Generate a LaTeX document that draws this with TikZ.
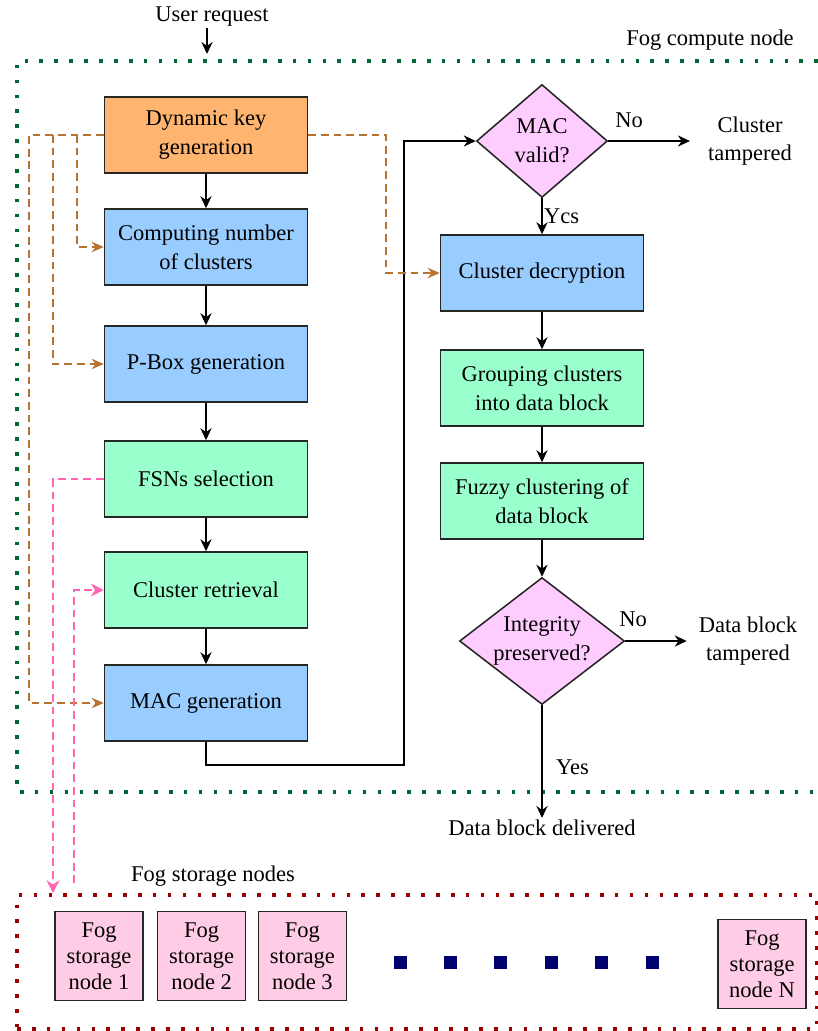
\documentclass[tikz,border=0pt]{standalone}
\usepackage{fontspec}
\setmainfont{Liberation Serif}
\usetikzlibrary{arrows.meta,positioning,shapes.geometric}
\definecolor{boxorange}{RGB}{255,181,112}
\definecolor{boxblue}{RGB}{153,204,255}
\definecolor{boxgreen}{RGB}{153,255,204}
\definecolor{boxviolet}{RGB}{255,204,255}
\definecolor{boxpink}{RGB}{255,204,230}
\definecolor{keybrown}{RGB}{184,115,51}
\definecolor{fsnpink}{RGB}{255,102,178}
\definecolor{fogblue}{RGB}{0,0,110}
\definecolor{cmpgreen}{RGB}{0,102,51}
\definecolor{stgred}{RGB}{153,0,0}

\begin{document}
\begin{tikzpicture}[
  font=\fontsize{16}{20.5}\selectfont,
  blk/.style={draw=black!85, line width=1.1pt, rectangle, minimum width=5.075cm, minimum height=1.9cm, align=center, inner sep=2pt},
  dec/.style={draw=black!85, line width=1.1pt, diamond, fill=boxviolet, align=center, inner sep=0pt, aspect=1.25},
  fsnbox/.style={draw=black!85, line width=1.1pt, rectangle, fill=boxpink, minimum width=2.2cm, minimum height=2.225cm, align=center, inner sep=1pt, font=\fontsize{16}{18.5}\selectfont},
  lbl/.style={align=center, inner sep=1pt},
  arr/.style={-{Stealth[length=3mm,width=2.8mm]}, line width=1pt},
  keyarr/.style={-{Stealth[length=3mm,width=2.6mm]}, line width=1.8pt, keybrown, dash pattern=on 5.5pt off 3.5pt},
  fsnarr/.style={-{Stealth[length=3.2mm,width=3.2mm]}, line width=1.8pt, fsnpink, dash pattern=on 5.5pt off 3.5pt},
  frame/.style={line width=2.6pt, dash pattern=on 2.6pt off 8pt}
]
\useasboundingbox (0,0) rectangle (20.45,-25.775);

% Fog compute node
\draw[frame, cmpgreen] (20.45,-1.525) -- (0.425,-1.525) -- (0.425,-19.8) -- (20.45,-19.8);
\node[lbl] (ureq) at (5.3,-0.425) {User request};
\node[lbl] (cmp) at (17.75,-1.0) {Fog compute node};
\coordinate (uin) at (5.175,-1.35);

% Left column
\node[blk, fill=boxorange] (dkg) at (5.15,-3.375) {Dynamic key\\generation};
\node[blk, fill=boxblue] (cnc) at (5.15,-6.175) {Computing number\\of clusters};
\node[blk, fill=boxblue] (pbox) at (5.15,-9.1) {P-Box generation};
\node[blk, fill=boxgreen] (fsn) at (5.15,-11.975) {FSNs selection};
\node[blk, fill=boxgreen] (cret) at (5.15,-14.75) {Cluster retrieval};
\node[blk, fill=boxblue] (macg) at (5.15,-17.575) {MAC generation};

% Right column
\node[dec, minimum width=3.275cm, minimum height=2.825cm] (macv) at (13.55,-3.525) {MAC\\valid?};
\node[blk, fill=boxblue] (cdec) at (13.55,-6.825) {Cluster decryption};
\node[blk, fill=boxgreen] (grp) at (13.55,-9.7) {Grouping clusters\\into data block};
\node[blk, fill=boxgreen] (fuz) at (13.55,-12.525) {Fuzzy clustering of\\data block};
\node[dec, minimum width=4.125cm, minimum height=3.175cm] (integ) at (13.55,-16.025) {Integrity\\preserved?};

\node[lbl, inner xsep=0.45cm] (ctam) at (18.75,-3.525) {Cluster\\tampered};
\node[lbl, inner xsep=0.3cm] (dtam) at (18.7,-16.025) {Data block\\tampered};
\node[lbl, anchor=north] (dlv) at (13.55,-20.45) {Data block delivered};

% Fog storage nodes
\node[frame, draw=stgred, minimum width=20cm, minimum height=3.35cm, inner sep=0pt] (stg) at (10.425,-24.05) {};
\node[lbl] (stgl) at (5.325,-21.9) {Fog storage nodes};
\node[fsnbox] (fs1) at (2.475,-23.9) {Fog\\storage\\node 1};
\node[fsnbox] (fs2) at (5.04,-23.9) {Fog\\storage\\node 2};
\node[fsnbox] (fs3) at (7.56,-23.9) {Fog\\storage\\node 3};
\node[fsnbox] (fsN) at (19.05,-24.1) {Fog\\storage\\node N};
\foreach \i in {0,...,5}
  \node[fill=fogblue, minimum size=0.325cm, inner sep=0pt] (sq\i) at (10.0+1.26*\i,-24.05) {};

% main flow
\draw[arr] (uin |- ureq.south) -- (uin);
\draw[arr] (dkg) -- (cnc);
\draw[arr] (cnc) -- (pbox);
\draw[arr] (pbox) -- (fsn);
\draw[arr] (fsn) -- (cret);
\draw[arr] (cret) -- (macg);
\coordinate (mbend) at (10.1,-19.125);
\draw[arr] (macg.south) |- (mbend) |- (macv.west);
\draw[arr] (macv) -- node[right, lbl] {Ycs} (cdec);
\draw[arr] (macv.east) -- (ctam.west);
\node[lbl] (no1) at (15.725,-3.0) {No};
\draw[arr] (cdec) -- (grp);
\draw[arr] (grp) -- (fuz);
\draw[arr] (fuz) -- (integ);
\draw[arr] (integ.east) -- (dtam.west);
\node[lbl] (no2) at (15.825,-15.475) {No};
\draw[arr] (integ.south) -- node[right, lbl, pos=0.55, xshift=0.3cm] {Yes} (dlv.north);

% key distribution
\coordinate (kx1) at (0.725,0);
\coordinate (kx2) at (1.325,0);
\coordinate (kx3) at (1.925,0);
\coordinate (kx4) at (9.65,0);
\draw[keyarr] (dkg.west) -- (dkg.west -| kx1) |- (macg.west);
\draw[keyarr] (dkg.west -| kx2) |- (pbox.west);
\draw[keyarr] (dkg.west -| kx3) |- (cnc.west);
\draw[keyarr] (dkg.east) -- (dkg.east -| kx4) |- (cdec.west);

% storage links
\coordinate (px1) at (1.325,0);
\coordinate (px2) at (1.85,0);
\draw[fsnarr] (fsn.west) -| (px1 |- stg.north);
\draw[fsnarr, shorten <=0.25cm] (px2 |- stg.north) |- (cret.west);
\end{tikzpicture}
\end{document}
